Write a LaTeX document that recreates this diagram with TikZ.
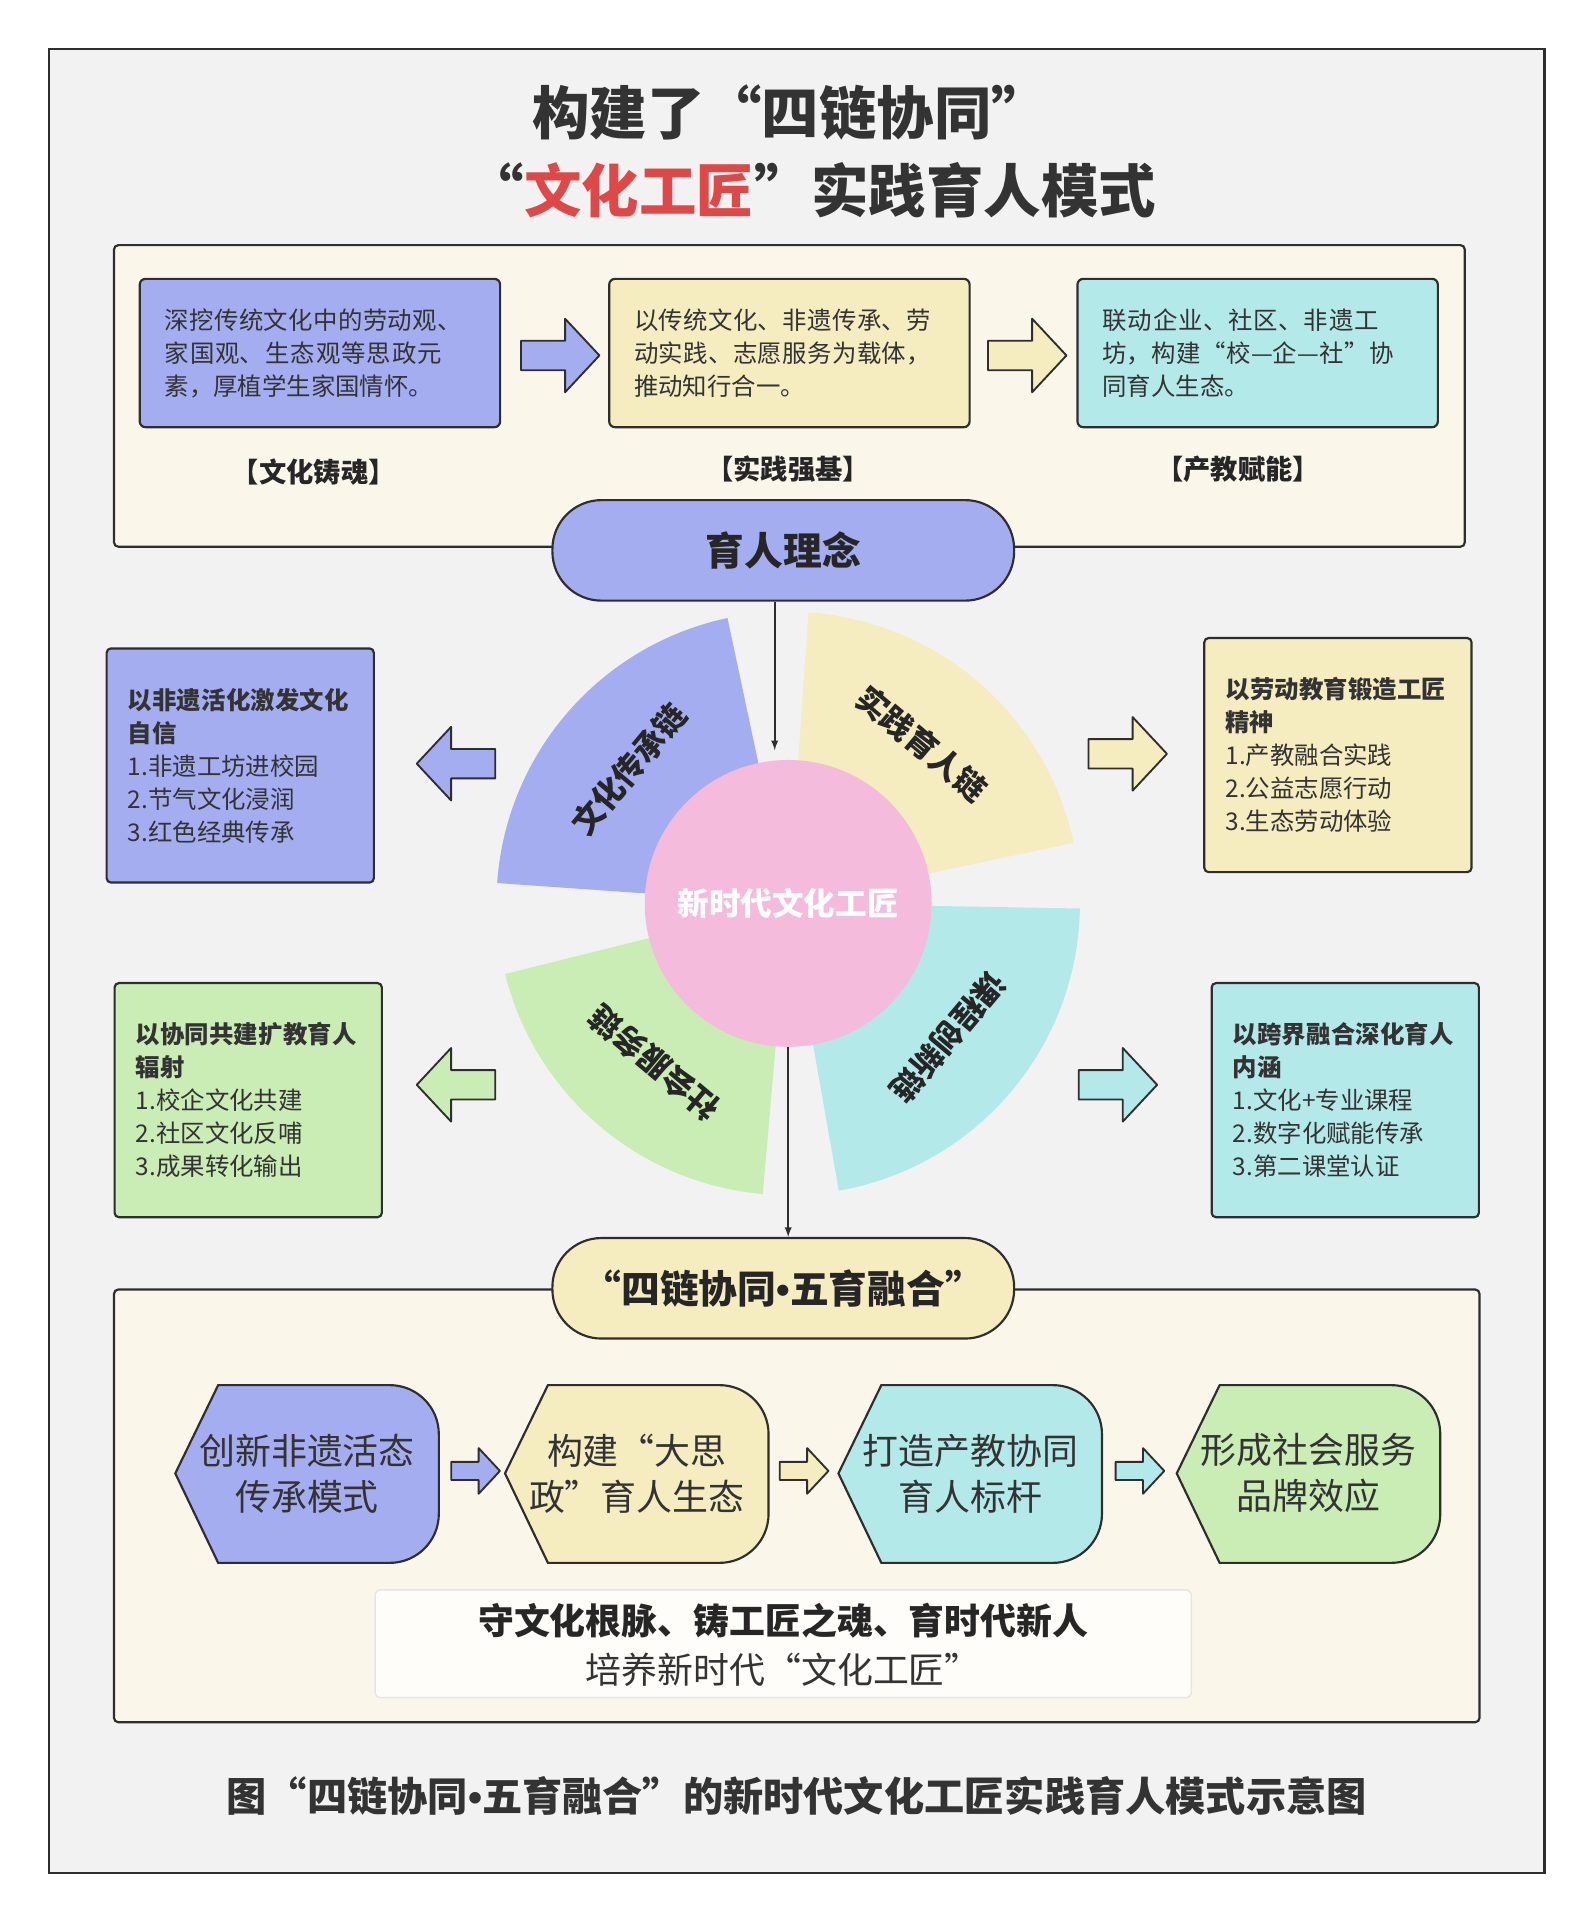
\documentclass[tikz,border=0pt]{standalone}
\usepackage{fontspec}
\setmainfont{Noto Sans CJK SC}
\newfontfamily\latinf{Liberation Sans}
\XeTeXlinebreaklocale "zh"
\XeTeXlinebreakskip=0pt plus 1pt
\usetikzlibrary{calc}
\definecolor{cblue}{HTML}{A4ADF0}
\definecolor{cyel}{HTML}{F5ECBF}
\definecolor{ccyan}{HTML}{B4E9EA}
\definecolor{cgreen}{HTML}{C9EDB4}
\definecolor{cpink}{HTML}{F4BBDC}
\definecolor{ccream}{HTML}{FAF7EA}
\definecolor{cline}{HTML}{2E2E2E}
\definecolor{cred}{HTML}{E04848}
\newcommand\dotsep{{\latinf\bfseries•}}
\newcommand\blockarrow[4]{% x y rotate color
  \begin{scope}[shift={(#1,#2)},rotate=#3]
  \filldraw[fill=#4,draw=cline,line width=1.3pt,line join=round]
   (-32,-12)--(4,-12)--(4,-30)--(32,0)--(4,30)--(4,12)--(-32,12)--cycle;
  \end{scope}}
\newcommand\smallarrow[3]{% x y color
  \begin{scope}[shift={(#1,#2)},scale=0.62]
  \filldraw[fill=#3,draw=cline,line width=1.3pt,line join=round]
   (-32,-12)--(4,-12)--(4,-30)--(32,0)--(4,30)--(4,12)--(-32,12)--cycle;
  \end{scope}}
\newcommand\hexshape[4]{% x0 x1 color name
  \filldraw[fill=#3,draw=cline,line width=1.5pt]
   (#1,1202) -- (#1+35,1130) [rounded corners=1.2cm] -- (#2,1130) -- (#2,1275) [sharp corners] -- (#1+35,1275) -- cycle;
  \coordinate (#4) at ({(#1+#2)/2},1202);}
\tikzset{
  box/.style={draw=cline,line width=1.5pt,rounded corners=4pt,minimum width=8.82cm,minimum height=3.63cm},
  boxtxt/.style={text width=7.6cm,align=left,font=\fontsize{17pt}{23pt}\selectfont,text=black!80},
  sidebox/.style={draw=cline,line width=1.5pt,rounded corners=3pt,minimum width=6.54cm,minimum height=5.73cm,text width=5.5cm,align=left,font=\fontsize{17pt}{23pt}\selectfont,text=black!80},
  pill/.style={draw=cline,line width=1.5pt,rounded corners=1.2cm,minimum width=11.3cm,minimum height=2.46cm,font=\fontsize{27pt}{30pt}\selectfont\bfseries,text=black!85},
  lab/.style={font=\fontsize{19pt}{22pt}\selectfont\bfseries,text=black!85},
  sect/.style={font=\fontsize{22pt}{24pt}\selectfont\bfseries,text=black!85},
  hextxt/.style={align=center,font=\fontsize{25pt}{32pt}\selectfont,text=black!80},
  conn/.style={-latex,line width=1.3pt,draw=cline}
}
\begin{document}
\begin{tikzpicture}[x=0.03cm,y=-0.03cm]
\useasboundingbox (0,0) rectangle (1300,1568);
\fill[white] (0,0) rectangle (1300,1568);
\filldraw[fill=black!5,draw=cline,line width=1.5pt] (40,40) rectangle (1260,1528);
% title
\node[font=\fontsize{40pt}{44pt}\selectfont\bfseries,text=black!80] (t1) at (645,92) {构建了“四链协同”};
\node[font=\fontsize{40pt}{44pt}\selectfont\bfseries,text=black!80] (t2) at (662,155) {“\textcolor{cred}{文化工匠}”实践育人模式};
% top panel
\filldraw[fill=ccream,draw=cline,line width=1.5pt,rounded corners=3pt] (93,200) rectangle (1195,446);
\node[box,fill=cblue] (b1) at (261,288) {};
\node[boxtxt] at (b1) {深挖传统文化中的劳动观、家国观、生态观等思政元素，厚植学生家国情怀。};
\node[box,fill=cyel] (b2) at (644,288) {};
\node[boxtxt] at (b2) {以传统文化、非遗传承、劳动实践、志愿服务为载体，推动知行合一。};
\node[box,fill=ccyan] (b3) at (1026,288) {};
\node[boxtxt] at (b3) {联动企业、社区、非遗工坊，构建“校—企—社”协同育人生态。};
\blockarrow{457}{290}{0}{cblue}
\blockarrow{838}{290}{0}{cyel}
\node[lab] (l1) at (256,385) {【文化铸魂】};
\node[lab] (l2) at (643,383) {【实践强基】};
\node[lab] (l3) at (1010,383) {【产教赋能】};
\node[pill,fill=cblue] (p1) at (639,449) {育人理念};
% sectors
\coordinate (c) at (643,737);
\filldraw[fill=cblue,draw=none] (c) -- ++(102:7.14cm) arc[start angle=102,end angle=176,radius=7.14cm] -- cycle;
\filldraw[fill=cyel,draw=none] (c) -- ++(12:7.14cm) arc[start angle=12,end angle=86,radius=7.14cm] -- cycle;
\filldraw[fill=ccyan,draw=none] (c) -- ++(-80:7.14cm) arc[start angle=-80,end angle=-1,radius=7.14cm] -- cycle;
\filldraw[fill=cgreen,draw=none] (c) -- ++(194:7.14cm) arc[start angle=194,end angle=265,radius=7.14cm] -- cycle;
\node[sect,rotate=50] at ([shift={(140:5.1cm)}]c) {文化传承链};
\node[sect,rotate=-40] at ([shift={(50:5.1cm)}]c) {实践育人链};
\node[sect,rotate=-130] at ([shift={(-40:5.1cm)}]c) {课程创新链};
\node[sect,rotate=140] at ([shift={(230:5.1cm)}]c) {社会服务链};
\node[circle,fill=cpink,minimum size=7.02cm,text=white,font=\fontsize{22pt}{24pt}\selectfont\bfseries] (ctr) at (c) {新时代文化工匠};
\draw[conn] (p1.south -| 632,0) -- (632,612);
% side boxes
\node[sidebox,fill=cblue] (s1) at (196,624.5) {\textbf{以非遗活化激发文化自信}\\1.非遗工坊进校园\\2.节气文化浸润\\3.红色经典传承};
\node[sidebox,fill=cyel] (s2) at (1091.5,616) {\textbf{以劳动教育锻造工匠精神}\\1.产教融合实践\\2.公益志愿行动\\3.生态劳动体验};
\node[sidebox,fill=cgreen] (s3) at (202.5,897.5) {\textbf{以协同共建扩教育人辐射}\\1.校企文化共建\\2.社区文化反哺\\3.成果转化输出};
\node[sidebox,fill=ccyan] (s4) at (1097.5,897.5) {\textbf{以跨界融合深化育人内涵}\\1.文化+专业课程\\2.数字化赋能传承\\3.第二课堂认证};
\blockarrow{372}{623}{180}{cblue}
\blockarrow{920}{615}{0}{cyel}
\blockarrow{372}{885}{180}{cgreen}
\blockarrow{912}{885}{0}{ccyan}
% bottom
\filldraw[fill=ccream,draw=cline,line width=1.5pt,rounded corners=3pt] (93,1052) rectangle (1207,1405);
\node[pill,fill=cyel] (p2) at (639,1051) {“四链协同\dotsep 五育融合”};
\draw[conn] (ctr.south) -- (p2.north -| ctr.south);
\hexshape{143}{358}{cblue}{h1}
\hexshape{412}{627}{cyel}{h2}
\hexshape{684}{899}{ccyan}{h3}
\hexshape{960}{1175}{cgreen}{h4}
\node[hextxt] at (h1) {创新非遗活态\\传承模式};
\node[hextxt] at (h2) {构建“大思\\政”育人生态};
\node[hextxt] at (h3) {打造产教协同\\育人标杆};
\node[hextxt] at (h4) {形成社会服务\\品牌效应};
\smallarrow{388}{1200}{cblue}
\smallarrow{656}{1200}{cyel}
\smallarrow{930}{1200}{ccyan}
\filldraw[fill=white!70!ccream,draw=black!10,line width=1pt,rounded corners=4pt] (306,1297) rectangle (972,1385);
\node[font=\fontsize{25pt}{28pt}\selectfont\bfseries,text=black!85] (m1) at (639,1322) {守文化根脉、铸工匠之魂、育时代新人};
\node[font=\fontsize{25pt}{28pt}\selectfont,text=black!80] (m2) at (639,1362) {培养新时代“文化工匠”};
\node[font=\fontsize{28pt}{30pt}\selectfont\bfseries,text=black!80] (cap) at (650,1465) {图“四链协同\dotsep 五育融合”的新时代文化工匠实践育人模式示意图};
\end{tikzpicture}
\end{document}
